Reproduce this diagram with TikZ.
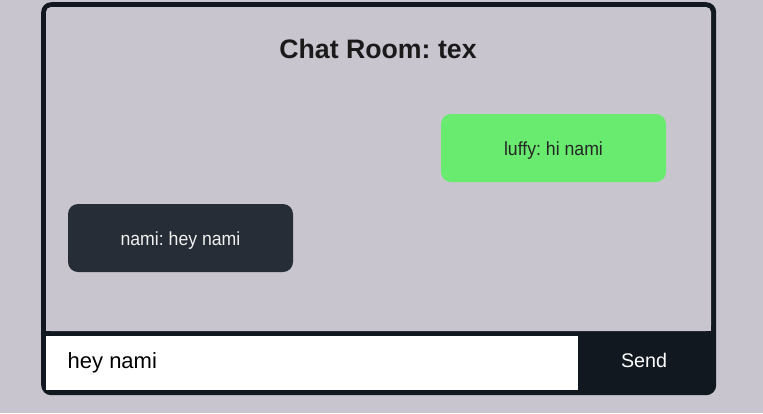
\documentclass[tikz,border=0pt]{standalone}
\usepackage{fontspec}
\setmainfont{Liberation Sans}
\newfontfamily\bubblefont[FakeStretch=0.93]{Liberation Sans}
\definecolor{pagebg}{HTML}{C9C5CF}
\definecolor{framedark}{HTML}{111820}
\definecolor{bubblegreen}{HTML}{68EB6E}
\definecolor{bubbledark}{HTML}{262D36}
\definecolor{greentext}{HTML}{262626}
\definecolor{titletext}{HTML}{1A1A1A}
\tikzset{
  bubble/.style={rectangle, rounded corners=10pt, minimum width=225pt, minimum height=68pt, inner sep=0pt,
    text height=14pt, text depth=0pt, font=\bubblefont\fontsize{19}{23}\selectfont},
  mine/.style={bubble, fill=bubblegreen, text=greentext},
  theirs/.style={bubble, fill=bubbledark, text=white!94!black},
}
\begin{document}
\frenchspacing
\begin{tikzpicture}[x=1pt,y=-1pt]
\useasboundingbox (0,0) rectangle (763,413);
\fill[pagebg] (0,0) rectangle (763,413);
% frame
\node[fill=framedark, rounded corners=10pt, inner sep=0pt, minimum width=675pt, minimum height=393pt, anchor=north west] (frame) at (41,2) {};
\fill[pagebg, rounded corners=5pt] (46,7) rectangle (711,331);
\fill[pagebg] (46,300) rectangle (711,331);
% title
\node[anchor=base, inner sep=0pt, text=titletext, font=\fontsize{26.7}{32}\selectfont\bfseries] (title) at (378,58) {Chat Room: tex};
% messages
\node[mine] (msg1) at (553.5,148) {luffy: hi nami};
\node[theirs] (msg2) at (180.5,238) {nami: hey nami};
% input
\node[fill=white, inner sep=0pt, minimum width=532pt, minimum height=54pt, anchor=north west] (inputbox) at (46,336) {};
\node[anchor=base west, inner sep=0pt, font=\fontsize{22}{26}\selectfont] (inputtext) at (67.5,368.5) {hey nami};
\node[anchor=base, inner sep=0pt, text=white, font=\fontsize{19.7}{24}\selectfont] (send) at (644,367) {Send};
\end{tikzpicture}
\end{document}
